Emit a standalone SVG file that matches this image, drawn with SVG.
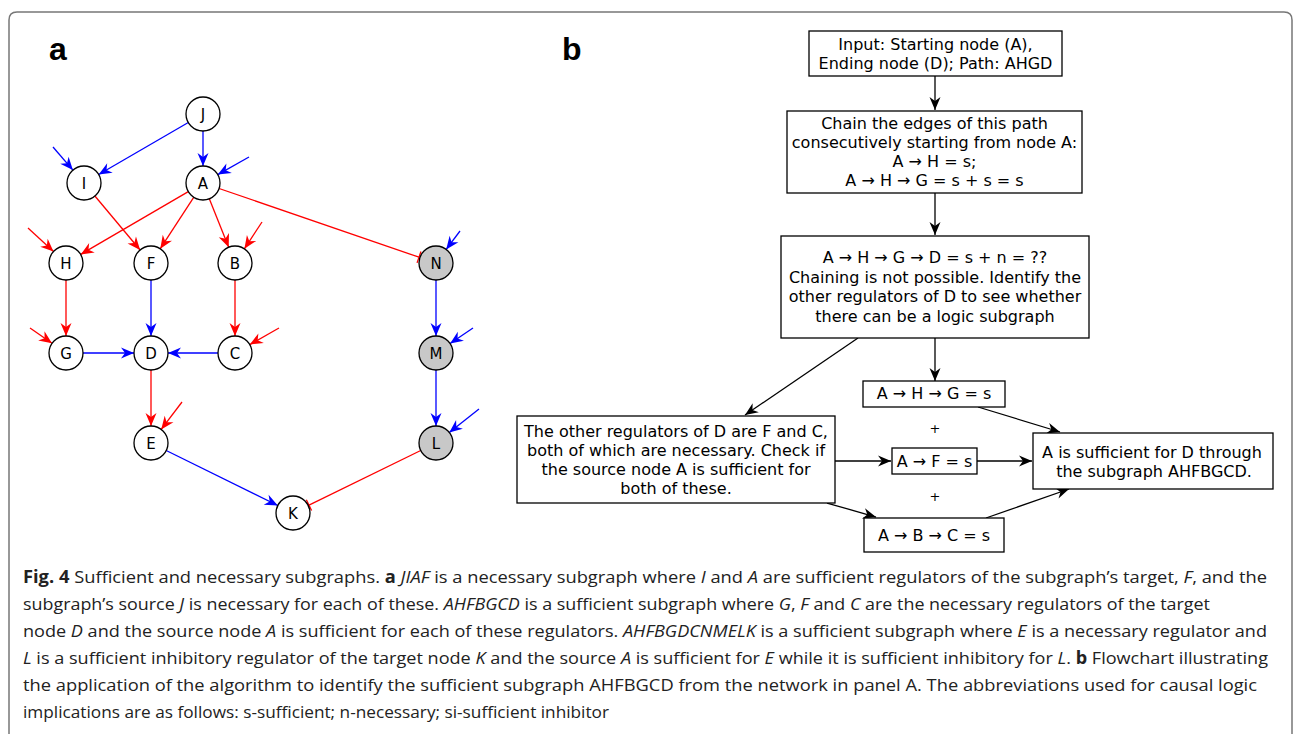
<svg xmlns="http://www.w3.org/2000/svg" width="1295" height="734" viewBox="0 0 1295 734">
  <style>
    .frame{fill:none;stroke:#777;stroke-width:1.5}
    .panel{font-family:"Liberation Sans",Arial,sans-serif;font-weight:bold;font-size:32px;fill:#000}
    .gn circle{fill:#fff;stroke:#000;stroke-width:1.3}
    .gn.grey circle{fill:#c8c8c8}
    .gn text{font-family:"DejaVu Sans",sans-serif;font-size:15px;text-anchor:middle;fill:#000}
    .er{stroke:#f00;stroke-width:1.3;fill:none}
    .eb{stroke:#00f;stroke-width:1.3;fill:none}
    .er.act{marker-end:url(#headR)}
    .eb.act{marker-end:url(#headB)}
    .er.inh{marker-end:url(#barR)}
    .fc rect{fill:#fff;stroke:#000;stroke-width:1.3}
    .fc text, .plus{font-family:"DejaVu Sans",sans-serif;font-size:16px;text-anchor:middle;fill:#000}
    .plus{font-size:13px}
    .fl{stroke:#000;stroke-width:1.3;fill:none;marker-end:url(#headK)}
    .cap{font-family:"Open Sans","Noto Sans",sans-serif;font-size:17px;fill:#222}
    .b{font-weight:bold}
    .i{font-style:italic}
  </style>
  <defs>
    <marker id="headR" viewBox="-14 -7 16 14" refX="0" refY="0" markerWidth="16" markerHeight="14" markerUnits="userSpaceOnUse" orient="auto">
      <path d="M0,0 L-13,-5.5 L-9,0 L-13,5.5 Z" fill="#f00"/>
    </marker>
    <marker id="headB" viewBox="-14 -7 16 14" refX="0" refY="0" markerWidth="16" markerHeight="14" markerUnits="userSpaceOnUse" orient="auto">
      <path d="M0,0 L-13,-5.5 L-9,0 L-13,5.5 Z" fill="#00f"/>
    </marker>
    <marker id="headK" viewBox="-14 -7 16 14" refX="0" refY="0" markerWidth="16" markerHeight="14" markerUnits="userSpaceOnUse" orient="auto">
      <path d="M0,0 L-13,-5.5 L-9,0 L-13,5.5 Z" fill="#000"/>
    </marker>
    <marker id="barR" viewBox="-3 -7 6 14" refX="0" refY="0" markerWidth="6" markerHeight="14" markerUnits="userSpaceOnUse" orient="auto">
      <path d="M0,-6 V6" stroke="#f00" stroke-width="1.3"/>
    </marker>
  </defs>

  <rect width="1295" height="734" fill="#fff"/>
  <!-- figure frame, open at the bottom -->
  <path class="frame" d="M9,734 V20 Q9,12 17,12 H1284 Q1292,12 1292,20 V734"/>

  <text class="panel" x="49" y="60">a</text>
  <text class="panel" x="562" y="60">b</text>

  <!-- network edges -->
  <g id="edges">
    <line class="eb act" x1="188.3" y1="122.5" x2="98.7" y2="174.5"/>
    <line class="eb act" x1="203" y1="131" x2="203" y2="166"/>
    <line class="er act" x1="94.9" y1="196" x2="140.1" y2="250"/>
    <line class="er act" x1="188.3" y1="191.6" x2="80.7" y2="254.4"/>
    <line class="er act" x1="193.7" y1="197.3" x2="160.3" y2="248.7"/>
    <line class="er act" x1="209.3" y1="198.8" x2="228.7" y2="247.2"/>
    <line class="er inh" x1="219.1" y1="188.5" x2="419" y2="257.2"/>
    <line class="er act" x1="66" y1="280" x2="66" y2="336"/>
    <line class="eb act" x1="151" y1="280" x2="151" y2="336"/>
    <line class="er act" x1="235" y1="280" x2="235" y2="336"/>
    <line class="eb act" x1="436" y1="280" x2="436" y2="336"/>
    <line class="eb act" x1="83" y1="353" x2="134" y2="353"/>
    <line class="eb act" x1="218" y1="353" x2="168" y2="353"/>
    <line class="er act" x1="151" y1="370" x2="151" y2="426"/>
    <line class="eb act" x1="436" y1="370" x2="436" y2="426"/>
    <line class="eb act" x1="166.2" y1="450.5" x2="277.8" y2="505.5"/>
    <line class="er inh" x1="420.7" y1="450.5" x2="309" y2="505.2"/>
    <!-- inputs from outside the shown network -->
    <line class="eb act" x1="53" y1="147" x2="72.9" y2="170.1"/>
    <line class="eb act" x1="249" y1="157" x2="217.8" y2="174.6"/>
    <line class="er act" x1="28" y1="228" x2="53.5" y2="251.5"/>
    <line class="er act" x1="262" y1="222" x2="244.4" y2="248.8"/>
    <line class="eb act" x1="460" y1="231" x2="446.2" y2="249.4"/>
    <line class="er act" x1="30" y1="328" x2="52" y2="343.3"/>
    <line class="er act" x1="279" y1="328" x2="249.8" y2="344.6"/>
    <line class="eb act" x1="473" y1="328" x2="450.1" y2="343.5"/>
    <line class="er act" x1="182" y1="402" x2="161.2" y2="429.4"/>
    <line class="eb act" x1="479" y1="409" x2="449.3" y2="432.5"/>
  </g>

  <!-- network nodes -->
  <g id="node-J" class="gn"><circle cx="203" cy="114" r="17"/><text x="203" y="119.5">J</text></g>
  <g id="node-I" class="gn"><circle cx="84" cy="183" r="17"/><text x="84" y="188.5">I</text></g>
  <g id="node-A" class="gn"><circle cx="203" cy="183" r="17"/><text x="203" y="188.5">A</text></g>
  <g id="node-H" class="gn"><circle cx="66" cy="263" r="17"/><text x="66" y="268.5">H</text></g>
  <g id="node-F" class="gn"><circle cx="151" cy="263" r="17"/><text x="151" y="268.5">F</text></g>
  <g id="node-B" class="gn"><circle cx="235" cy="263" r="17"/><text x="235" y="268.5">B</text></g>
  <g id="node-N" class="gn grey"><circle cx="436" cy="263" r="17"/><text x="436" y="268.5">N</text></g>
  <g id="node-G" class="gn"><circle cx="66" cy="353" r="17"/><text x="66" y="358.5">G</text></g>
  <g id="node-D" class="gn"><circle cx="151" cy="353" r="17"/><text x="151" y="358.5">D</text></g>
  <g id="node-C" class="gn"><circle cx="235" cy="353" r="17"/><text x="235" y="358.5">C</text></g>
  <g id="node-M" class="gn grey"><circle cx="436" cy="353" r="17"/><text x="436" y="358.5">M</text></g>
  <g id="node-E" class="gn"><circle cx="151" cy="443" r="17"/><text x="151" y="448.5">E</text></g>
  <g id="node-L" class="gn grey"><circle cx="436" cy="443" r="17"/><text x="436" y="448.5">L</text></g>
  <g id="node-K" class="gn"><circle cx="293" cy="513" r="17"/><text x="293" y="518.5">K</text></g>

  <!-- flowchart connectors -->
  <g id="flow-edges">
    <line class="fl" x1="935" y1="76" x2="935" y2="110"/>
    <line class="fl" x1="935" y1="193" x2="935" y2="235"/>
    <line class="fl" x1="935" y1="338" x2="935" y2="381"/>
    <line class="fl" x1="858" y1="338" x2="745" y2="415"/>
    <line class="fl" x1="835" y1="461" x2="891" y2="461"/>
    <line class="fl" x1="977" y1="461" x2="1032" y2="461"/>
    <line class="fl" x1="978" y1="407" x2="1060" y2="432"/>
    <line class="fl" x1="827" y1="503" x2="876" y2="517"/>
    <line class="fl" x1="986" y1="518" x2="1069" y2="489"/>
  </g>
  <text class="plus" x="935" y="433">+</text>
  <text class="plus" x="935" y="501">+</text>

  <!-- flowchart steps -->
  <g id="step-input" class="fc">
    <rect x="809" y="31" width="253" height="45"/>
    <text x="935.5" y="50">Input: Starting node (A),</text>
    <text x="935.5" y="69">Ending node (D); Path: AHGD</text>
  </g>
  <g id="step-chain" class="fc">
    <rect x="787" y="111" width="295" height="82"/>
    <text x="934.5" y="129">Chain the edges of this path</text>
    <text x="934.5" y="148">consecutively starting from node A:</text>
    <text x="934.5" y="167">A → H = s;</text>
    <text x="934.5" y="186">A → H → G = s + s = s</text>
  </g>
  <g id="step-fail" class="fc">
    <rect x="781" y="236" width="308" height="102"/>
    <text x="935" y="263">A → H → G → D = s + n = ??</text>
    <text x="935" y="282.5">Chaining is not possible. Identify the</text>
    <text x="935" y="302">other regulators of D to see whether</text>
    <text x="935" y="321.5">there can be a logic subgraph</text>
  </g>
  <g id="step-ahg" class="fc">
    <rect x="863" y="381" width="142" height="26"/>
    <text x="934" y="399">A → H → G = s</text>
  </g>
  <g id="step-others" class="fc">
    <rect x="517" y="416" width="318" height="87"/>
    <text x="676" y="437">The other regulators of D are F and C,</text>
    <text x="676" y="456">both of which are necessary. Check if</text>
    <text x="676" y="475">the source node A is sufficient for</text>
    <text x="676" y="494">both of these.</text>
  </g>
  <g id="step-af" class="fc">
    <rect x="892" y="448" width="85" height="26"/>
    <text x="934.5" y="467">A → F = s</text>
  </g>
  <g id="step-abc" class="fc">
    <rect x="864" y="518" width="140" height="34"/>
    <text x="934" y="541">A → B → C = s</text>
  </g>
  <g id="step-result" class="fc">
    <rect x="1033" y="433" width="240" height="56"/>
    <text x="1152" y="458">A is sufficient for D through</text>
    <text x="1154" y="477">the subgraph AHFBGCD.</text>
  </g>

  <!-- figure caption -->
  <g id="caption" class="cap">
    <text x="23" y="583" textLength="1244" lengthAdjust="spacingAndGlyphs"><tspan class="b">Fig. 4</tspan> Sufficient and necessary subgraphs. <tspan class="b">a</tspan> <tspan class="i">JIAF</tspan> is a necessary subgraph where <tspan class="i">I</tspan> and <tspan class="i">A</tspan> are sufficient regulators of the subgraph’s target, <tspan class="i">F</tspan>, and the</text>
    <text x="23" y="610" textLength="1187" lengthAdjust="spacingAndGlyphs">subgraph’s source <tspan class="i">J</tspan> is necessary for each of these. <tspan class="i">AHFBGCD</tspan> is a sufficient subgraph where <tspan class="i">G</tspan>, <tspan class="i">F</tspan> and <tspan class="i">C</tspan> are the necessary regulators of the target</text>
    <text x="23" y="637" textLength="1244" lengthAdjust="spacingAndGlyphs">node <tspan class="i">D</tspan> and the source node <tspan class="i">A</tspan> is sufficient for each of these regulators. <tspan class="i">AHFBGDCNMELK</tspan> is a sufficient subgraph where <tspan class="i">E</tspan> is a necessary regulator and</text>
    <text x="23" y="664" textLength="1245" lengthAdjust="spacingAndGlyphs"><tspan class="i">L</tspan> is a sufficient inhibitory regulator of the target node <tspan class="i">K</tspan> and the source <tspan class="i">A</tspan> is sufficient for <tspan class="i">E</tspan> while it is sufficient inhibitory for <tspan class="i">L</tspan>. <tspan class="b">b</tspan> Flowchart illustrating</text>
    <text x="23" y="691" textLength="1234" lengthAdjust="spacingAndGlyphs">the application of the algorithm to identify the sufficient subgraph AHFBGCD from the network in panel A. The abbreviations used for causal logic</text>
    <text x="23" y="718" textLength="586" lengthAdjust="spacingAndGlyphs">implications are as follows: s-sufficient; n-necessary; si-sufficient inhibitor</text>
  </g>
</svg>
